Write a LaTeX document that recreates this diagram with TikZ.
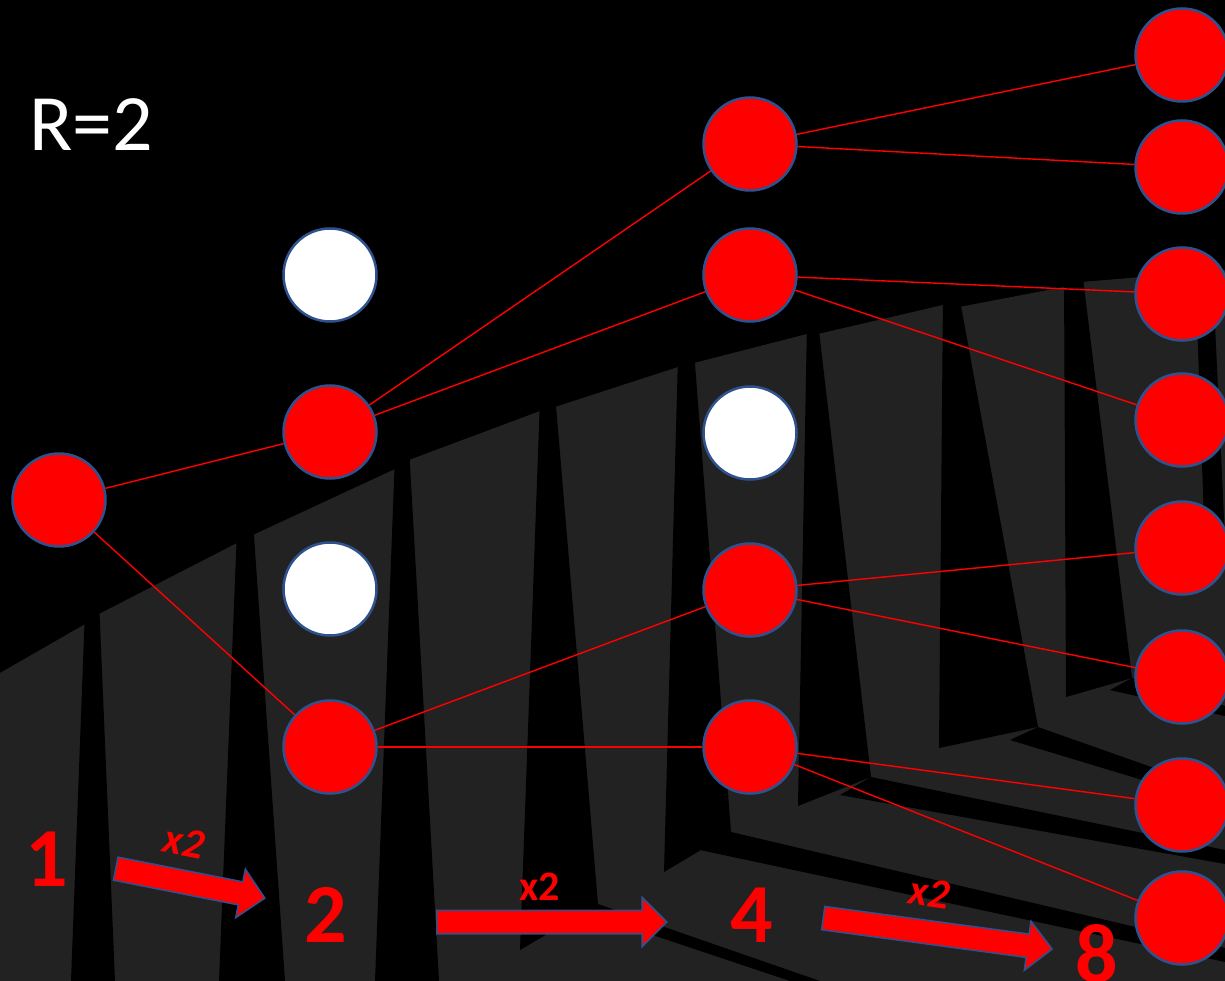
\documentclass[tikz,border=0pt]{standalone}
\usepackage{fontspec}
\setmainfont{Carlito}
\usepackage{tikz}
\usetikzlibrary{shapes.arrows}

\definecolor{wallgray}{RGB}{34,34,34}
\definecolor{rimblue}{RGB}{47,82,143}

\begin{document}
\begin{tikzpicture}[x=1pt,y=-1pt,
    redball/.style={circle, draw=rimblue, line width=2.5pt, fill=red, minimum size=93pt, inner sep=0pt},
    whiteball/.style={redball, fill=white},
    link/.style={red, line width=1.4pt},
    bigarrow/.style={single arrow, draw=rimblue, line width=1.5pt, fill=red, inner sep=0pt, inner ysep=11pt,
      single arrow head extend=13pt, minimum width=0pt, anchor=tail},
    count/.style={red, inner sep=0pt, font=\bfseries\fontsize{84}{96}\selectfont},
    factor/.style={red, inner sep=0pt, font=\bfseries\fontsize{42}{50}\selectfont},
    factorit/.style={factor, font=\bfseries\itshape\fontsize{42}{50}\selectfont}]
  \clip (0,0) rectangle (1225,981);

  % wall behind
  \fill[black] (0,0) rectangle (1225,981);
  \fill[wallgray] (0,673) -- (87,623) -- (99,614) -- (237,543) -- (253,535) -- (395,469) -- (409,460)
    -- (540,411) -- (555,407) -- (678,367) -- (694,363) -- (807,334) -- (818,334) -- (943,305)
    -- (959,307) -- (1064,287) -- (1082,282) -- (1225,270) -- (1225,981) -- (0,981) -- cycle;
  % gaps between the posts
  \fill[black] (85,610) -- (99,600) -- (115,981) -- (71,981) -- cycle;
  \fill[black] (237,530) -- (253,522) -- (285,981) -- (219,981) -- cycle;
  \fill[black] (395,455) -- (409,447) -- (439,981) -- (375,981) -- cycle;
  \fill[black] (540,398) -- (555,394) -- (598,904) -- (520,950) -- cycle;
  \fill[black] (678,355) -- (694,351) -- (731,832) -- (664,872) -- cycle;
  \fill[black] (807,322) -- (818,322) -- (871,777) -- (798,806) -- cycle;
  \fill[black] (943,293) -- (959,295) -- (1038,727) -- (939,748) -- cycle;
  \fill[black] (1064,275) -- (1082,270) -- (1132,678) -- (1066,697) -- cycle;
  \fill[black] (1195,262) -- (1212,260) -- (1225,540) -- (1205,550) -- cycle;
  % shadows on the floor
  \fill[black] (584,912) -- (598,904) -- (820,981) -- (790,981) -- cycle;
  \fill[black] (700,850) -- (731,832) -- (1225,948) -- (1225,962) -- cycle;
  \fill[black] (840,795) -- (871,777) -- (1225,850) -- (1225,864) -- cycle;
  \fill[black] (1010,740) -- (1038,727) -- (1225,793) -- (1225,805) -- cycle;
  \fill[black] (1110,690) -- (1132,678) -- (1225,706) -- (1225,716) -- cycle;

  \node[white, inner sep=0pt, font=\fontsize{80}{96}\selectfont] (rtitle) at (91,125) {R=2};

  % generations
  \node[redball] (a) at (59,500) {};
  \foreach \i/\y/\s in {1/275/whiteball, 2/432/redball, 3/589/whiteball, 4/747/redball}
    \node[\s] (b\i) at (330,\y) {};
  \foreach \i/\y/\s in {1/144/redball, 2/275/redball, 3/433/whiteball, 4/590/redball, 5/747/redball}
    \node[\s] (c\i) at (750,\y) {};
  \foreach \i/\y in {1/55, 2/167, 3/294, 4/420, 5/548, 6/677, 7/805, 8/918}
    \node[redball] (d\i) at (1182,\y) {};

  \foreach \p/\q in {a/b2, a/b4, b2/c1, b2/c2, b4/c4, b4/c5,
                     c1/d1, c1/d2, c2/d3, c2/d4, c4/d5, c4/d6, c5/d7, c5/d8}
    \draw[link] (\p) -- (\q);

  % counts
  \node[count] (n1) at (47,859) {1};
  \node[count] (n2) at (326,915) {2};
  \node[count] (n4) at (752,915) {4};
  \node[count] (n8) at (1097,954) {8};

  \node[bigarrow, rotate=-11.2, minimum height=152pt] (ar1) at (115,868.5) {};
  \node[bigarrow, minimum height=230pt] (ar2) at (436,922) {};
  \node[bigarrow, rotate=-7.7, minimum height=231pt] (ar3) at (822.5,918) {};

  \node[factorit, rotate=-11] (f1) at (184,842) {x2};
  \node[factor] (f2) at (540,887) {x2};
  \node[factorit, rotate=-8] (f3) at (929,893) {x2};
\end{tikzpicture}
\end{document}
